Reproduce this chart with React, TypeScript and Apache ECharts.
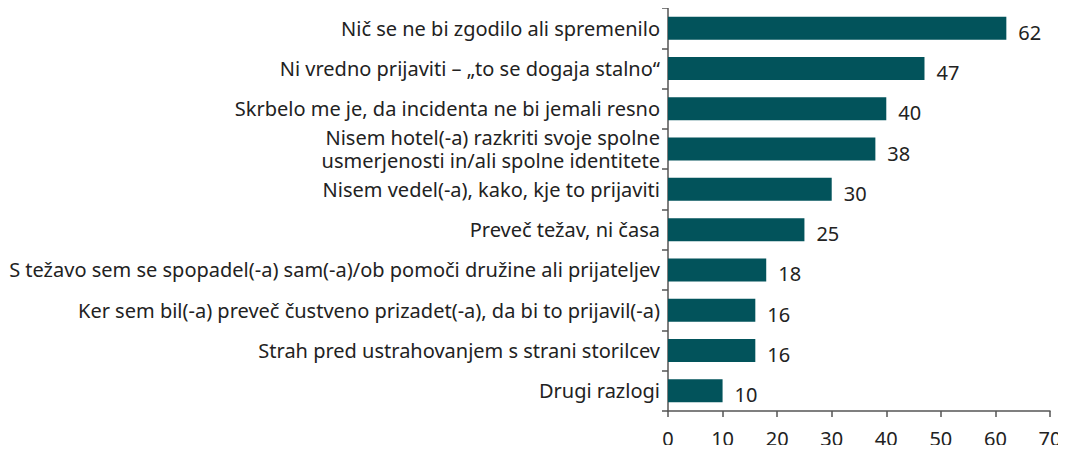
import React, { useEffect, useRef } from "react";
import * as echarts from "echarts";

const categories = [
  "Nič se ne bi zgodilo ali spremenilo",
  "Ni vredno prijaviti – „to se dogaja stalno“",
  "Skrbelo me je, da incidenta ne bi jemali resno",
  "Nisem hotel(-a) razkriti svoje spolne\nusmerjenosti in/ali spolne identitete",
  "Nisem vedel(-a), kako, kje to prijaviti",
  "Preveč težav, ni časa",
  "S težavo sem se spopadel(-a) sam(-a)/ob pomoči družine ali prijateljev",
  "Ker sem bil(-a) preveč čustveno prizadet(-a), da bi to prijavil(-a)",
  "Strah pred ustrahovanjem s strani storilcev",
  "Drugi razlogi",
];
const values = [62, 47, 40, 38, 30, 25, 18, 16, 16, 10];

export default function App() {
  const ref = useRef<HTMLDivElement>(null);
  useEffect(() => {
    const chart = echarts.init(ref.current!, null, { renderer: "svg" });
    const font = "Noto Sans";
    chart.setOption({
      animation: false,
      grid: {
        left: 668,
        right: 16,
        top: 8,
        bottom: 42,
        containLabel: false,
        outerBoundsMode: "none",
      },
      xAxis: {
        type: "value",
        min: 0,
        max: 70,
        interval: 10,
        axisLine: { show: true, lineStyle: { color: "#555", width: 1.5 } },
        axisTick: { show: true, length: 6, lineStyle: { color: "#555", width: 1.5 } },
        splitLine: { show: false },
        axisLabel: { color: "#222", fontSize: 20, fontFamily: font, margin: 17 },
      },
      yAxis: {
        type: "category",
        inverse: true,
        data: categories,
        axisLine: { show: true, lineStyle: { color: "#555", width: 1.5 } },
        axisTick: { show: true, length: 6, lineStyle: { color: "#555", width: 1.5 } },
        axisLabel: {
          color: "#222",
          fontSize: 20,
          fontFamily: font,
          margin: 8,
          lineHeight: 23,
          align: "right",
        },
      },
      series: [
        {
          type: "bar",
          data: values,
          barWidth: "57%",
          itemStyle: { color: "#02535b" },
          label: {
            show: true,
            position: "right",
            distance: 12,
            offset: [0, 4],
            color: "#222",
            fontSize: 20,
            fontFamily: font,
          },
        },
      ],
    });
    return () => chart.dispose();
  }, []);
  return <div ref={ref} style={{ width: 1066, height: 453, margin: -8 }} />;
}
